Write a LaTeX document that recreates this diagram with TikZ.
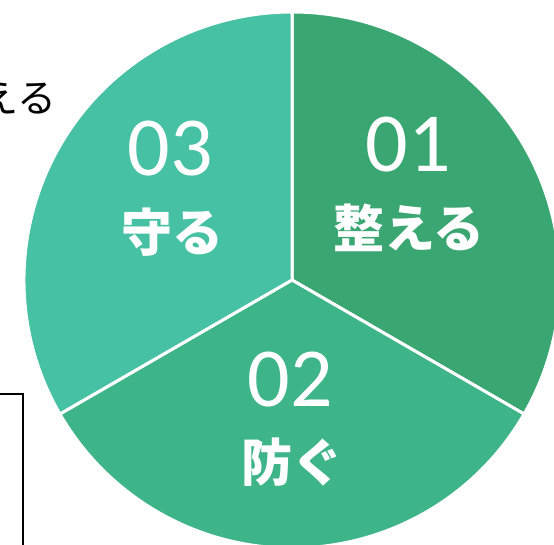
\documentclass[tikz,border=0pt]{standalone}
\usepackage{fontspec}
\setmainfont{Carlito}
\newfontfamily\jp{Noto Sans CJK JP}
\definecolor{sectA}{RGB}{58,166,114}
\definecolor{sectB}{RGB}{62,180,137}
\definecolor{sectC}{RGB}{70,193,163}
\tikzset{
  sector/.style={draw=white,line width=3pt,line join=round},
  num/.style={text=white,font=\fontsize{84}{84}\selectfont,inner sep=0pt},
  word/.style={text=white,font=\jp\bfseries\fontsize{51}{51}\selectfont,inner sep=0pt},
}
\begin{document}
\begin{tikzpicture}[x=1pt,y=1pt]
\useasboundingbox (0,-545) rectangle (554,0);
\clip (0,-545) rectangle (554,0);
\coordinate (c) at (292,-280);
\path[sector,fill=sectA] (c) -- ++(90:268) arc[start angle=90,end angle=-30,radius=268] -- cycle;
\path[sector,fill=sectB] (c) -- ++(-30:268) arc[start angle=-30,end angle=-150,radius=268] -- cycle;
\path[sector,fill=sectC] (c) -- ++(210:268) arc[start angle=210,end angle=90,radius=268] -- cycle;
\node[num] (n1) at (408,-145) {01};
\node[word] (w1) at (409,-228) {整える};
\node[num] (n2) at (290,-380) {02};
\node[word] (w2) at (292,-462) {防ぐ};
\node[num] (n3) at (170,-149) {03};
\node[word] (w3) at (172,-232) {守る};
\node[anchor=east,inner sep=0pt,font=\jp\fontsize{39}{39}\selectfont] (t) at (57,-98) {える};
\draw[line width=2pt] (0,-394) -- (22.5,-394) -- (22.5,-546);
\end{tikzpicture}
\end{document}
